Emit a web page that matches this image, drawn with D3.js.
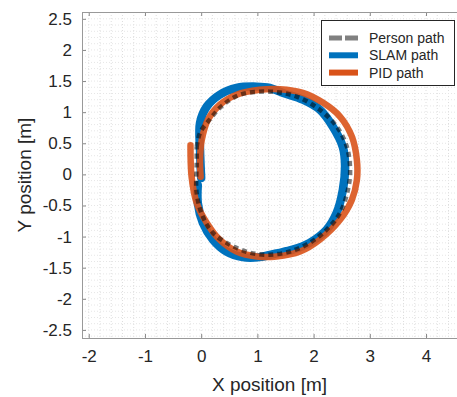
<!DOCTYPE html>
<meta charset="utf-8">
<style>
  body { margin: 0; background: #fff; }
  text { font-family: "Liberation Sans", Arial, sans-serif; fill: #262626; }
</style>
<body>
<div id="chart"></div>
<script src="https://d3js.org/d3.v7.min.js"></script>
<script>
// data, in metres
var personX = [-0.08, -0.02, 0.15, 0.37, 0.69, 1.22, 1.70, 2.11, 2.41, 2.59, 2.65, 2.61, 2.47, 2.23, 1.93, 1.58, 1.22, 0.87, 0.51, 0.21, 0.03, -0.08, -0.08, -0.08];
var personY = [0.44, 0.67, 0.88, 1.10, 1.28, 1.33, 1.25, 1.04, 0.77, 0.45, 0.07, -0.25, -0.62, -0.89, -1.10, -1.24, -1.29, -1.26, -1.13, -0.94, -0.68, -0.30, 0.18, 0.44];

var slamX = [0.00, -0.02, -0.02, 0.10, 0.33, 0.63, 0.99, 1.22, 1.45, 1.81, 2.11, 2.34, 2.52, 2.56, 2.52, 2.41, 2.23, 1.93, 1.63, 1.34, 1.04, 0.74, 0.45, 0.21, 0.03, -0.06, -0.06];
var slamY = [-0.06, 0.39, 0.83, 1.09, 1.28, 1.39, 1.41, 1.39, 1.31, 1.20, 1.04, 0.77, 0.44, 0.13, -0.25, -0.62, -0.89, -1.10, -1.21, -1.27, -1.33, -1.33, -1.24, -1.05, -0.78, -0.46, -0.17];

var pidX = [-0.01, -0.02, 0.01, 0.12, 0.33, 0.63, 1.04, 1.40, 1.81, 2.17, 2.47, 2.68, 2.77, 2.77, 2.68, 2.47, 2.11, 1.76, 1.34, 0.99, 0.63, 0.33, 0.10, -0.08, -0.17, -0.19];
var pidY = [-0.04, 0.23, 0.55, 0.88, 1.12, 1.28, 1.36, 1.37, 1.31, 1.15, 0.93, 0.61, 0.23, -0.09, -0.41, -0.73, -1.05, -1.24, -1.32, -1.32, -1.24, -1.05, -0.78, -0.46, -0.04, 0.47];

var xTicks = [-2, -1, 0, 1, 2, 3, 4];
var yTicks = [2.5, 2, 1.5, 1, 0.5, 0, -0.5, -1, -1.5, -2, -2.5];
var legendNames = ["Person path", "SLAM path", "PID path"];

var W = 457, H = 397;
var mLeft = 82, mTop = 12, mRight = 462, mBottom = 338;

var svg = d3.select("#chart").append("svg")
  .attr("width", W).attr("height", H);

var x = d3.scaleLinear().domain([-2.12, 4.64]).range([mLeft, mRight]);
var y = d3.scaleLinear().domain([-2.63, 2.61]).range([mBottom, mTop]);
var fmt = function (d) { return String(d); };

svg.append("defs").append("clipPath").attr("id", "clip")
  .append("rect").attr("x", mLeft).attr("y", mTop)
  .attr("width", mRight - mLeft).attr("height", mBottom - mTop);

// dotted minor grid
var grid = svg.append("g").attr("clip-path", "url(#clip)");
grid.selectAll(".gx").data(d3.range(-2.0, 4.7, 0.2)).enter().append("line")
  .attr("x1", d => x(d)).attr("x2", d => x(d))
  .attr("y1", mTop).attr("y2", mBottom)
  .attr("stroke", "#dedede").attr("stroke-width", 1).attr("stroke-dasharray", "1,2");
grid.selectAll(".gy").data(d3.range(-2.6, 2.65, 0.1)).enter().append("line")
  .attr("x1", mLeft).attr("x2", mRight)
  .attr("y1", d => y(d)).attr("y2", d => y(d))
  .attr("stroke", "#e6e6e6").attr("stroke-width", 1).attr("stroke-dasharray", "1,2");

// axes
svg.append("g").attr("transform", "translate(0," + mBottom + ")")
  .call(d3.axisBottom(x).tickValues(xTicks).tickFormat(fmt).tickSizeInner(-4).tickSizeOuter(0).tickPadding(12))
  .call(g => g.select(".domain").remove())
  .call(g => g.selectAll("line").attr("stroke", "#888"))
  .call(g => g.selectAll("text").attr("font-size", 17).attr("fill", "#262626"));
svg.append("g").attr("transform", "translate(" + mLeft + ",0)")
  .call(d3.axisLeft(y).tickValues(yTicks).tickFormat(fmt).tickSizeInner(-4).tickSizeOuter(0).tickPadding(10))
  .call(g => g.select(".domain").remove())
  .call(g => g.selectAll("line").attr("stroke", "#888"))
  .call(g => g.selectAll("text").attr("font-size", 17).attr("fill", "#262626"));
svg.append("g").attr("transform", "translate(0," + mTop + ")")
  .call(d3.axisTop(x).tickValues(xTicks).tickSizeInner(-4).tickSizeOuter(0).tickFormat(""))
  .call(g => g.select(".domain").remove())
  .call(g => g.selectAll("line").attr("stroke", "#888"));

svg.append("rect")
  .attr("x", mLeft + 0.5).attr("y", mTop + 0.5)
  .attr("width", mRight - mLeft).attr("height", mBottom - mTop)
  .attr("fill", "none").attr("stroke", "#999").attr("stroke-width", 1);

// paths
var line = d3.line().x(d => x(d[0])).y(d => y(d[1])).curve(d3.curveCatmullRom.alpha(0.5));
var plot = svg.append("g").attr("clip-path", "url(#clip)");

plot.append("path").datum(d3.zip(slamX, slamY))
  .attr("d", line).attr("fill", "none")
  .attr("stroke", "#0072BD").attr("stroke-width", 8.5)
  .attr("stroke-linecap", "round").attr("stroke-linejoin", "round");
plot.append("path").datum(d3.zip(pidX, pidY))
  .attr("d", line).attr("fill", "none")
  .attr("stroke", "#D95319").attr("stroke-width", 6.5).attr("stroke-opacity", 0.9)
  .attr("stroke-linecap", "round").attr("stroke-linejoin", "round");
plot.append("path").datum(d3.zip(personX, personY))
  .attr("d", line).attr("fill", "none")
  .attr("stroke", "#7a7a7a").attr("stroke-width", 4.5)
  .attr("stroke-dasharray", "5,4")
  .style("mix-blend-mode", "multiply");

// legend
var lg = svg.append("g");
lg.append("rect").attr("x", 321.5).attr("y", 20.5).attr("width", 133).attr("height", 65)
  .attr("fill", "#fff").attr("stroke", "#262626").attr("stroke-width", 1);
var legendStyle = [
  { color: "#808080", w: 5, dash: "13,3" },
  { color: "#0072BD", w: 6, dash: null },
  { color: "#D95319", w: 6, dash: null }
];
legendNames.forEach(function (name, i) {
  var yy = 38 + i * 17.3;
  lg.append("line").attr("x1", 329).attr("x2", 358).attr("y1", yy).attr("y2", yy)
    .attr("stroke", legendStyle[i].color).attr("stroke-width", legendStyle[i].w)
    .attr("stroke-dasharray", legendStyle[i].dash);
  lg.append("text").attr("x", 369).attr("y", yy + 5).attr("font-size", 14).text(name);
});

// axis titles
svg.append("text").attr("x", (mLeft + 457) / 2).attr("y", 391)
  .attr("text-anchor", "middle").attr("font-size", 19).text("X position [m]");
svg.append("text").attr("transform", "translate(31," + (mTop + mBottom) / 2 + ") rotate(-90)")
  .attr("text-anchor", "middle").attr("font-size", 19).text("Y position [m]");
</script>
</body>
